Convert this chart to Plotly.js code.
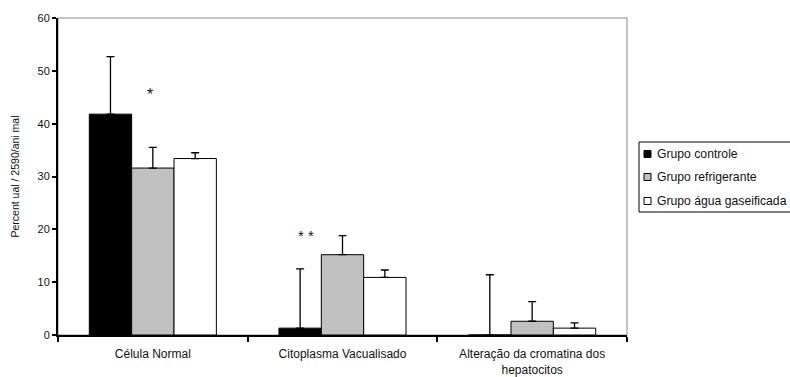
<!DOCTYPE html>
<html>
<head>
<meta charset="utf-8">
<script src="https://cdn.plot.ly/plotly-3.0.1.min.js"></script>
<style>html,body{margin:0;padding:0;background:#fff;overflow:hidden}#chart{width:790px;height:377px}</style>
</head>
<body>
<div id="chart"></div>
<script>
const categories = ["Célula Normal", "Citoplasma Vacualisado", "Alteração da cromatina dos<br>hepatocitos"];
const seriesNames = ["Grupo controle", "Grupo refrigerante", "Grupo água gaseificada"];
const controle = [41.8, 1.3, 0];
const controleErr = [10.9, 11.2, 11.4];
const refrigerante = [31.6, 15.2, 2.6];
const refrigeranteErr = [3.9, 3.6, 3.7];
const agua = [33.4, 10.9, 1.3];
const aguaErr = [1.1, 1.4, 1.0];
const yTicks = [0, 10, 20, 30, 40, 50, 60];

const colors = ["#000000", "#c0c0c0", "#ffffff"];
const values = [controle, refrigerante, agua];
const errs = [controleErr, refrigeranteErr, aguaErr];

const traces = values.map((v, i) => ({
  type: "bar",
  name: seriesNames[i],
  x: categories,
  y: v,
  marker: {color: colors[i], line: {color: "#000", width: 1}},
  error_y: {type: "data", symmetric: false, array: errs[i], arrayminus: v.map(() => 0),
            color: "#000", thickness: 1.3, width: 4}
}));

// plot area geometry (pixels) used to place the hand-built legend
const W = 790, H = 377, L = 58, R = 163, T = 18, B = 42;
const pw = W - L - R, ph = H - T - B;
const px = p => (p - L) / pw;
const py = p => (H - B - p) / ph;

const legendRows = [154, 177, 201];
const shapes = [
  {type: "rect", xref: "paper", yref: "paper", x0: 0, x1: 1, y0: 0, y1: 1,
   line: {color: "#888", width: 1}, layer: "below"},
  {type: "rect", xref: "paper", yref: "paper", x0: px(639), x1: px(820), y0: py(212), y1: py(142),
   line: {color: "#000", width: 1}, fillcolor: "#fff", layer: "above"}
];
const annotations = [
  {x: 0, y: 45.6, xref: "x", yref: "y", text: "*", showarrow: false, xshift: -3,
   font: {size: 16, color: "#111"}},
  {x: 1, y: 18.8, xref: "x", yref: "y", text: "* *", showarrow: false, xshift: -37,
   font: {size: 15, color: "#111"}}
];
seriesNames.forEach((n, i) => {
  const r = legendRows[i];
  shapes.push({type: "rect", xref: "paper", yref: "paper", x0: px(644), x1: px(651),
               y0: py(r + 3.5), y1: py(r - 3.5), fillcolor: colors[i],
               line: {color: "#000", width: 1}, layer: "above"});
  annotations.push({x: px(655), y: py(r), xref: "paper", yref: "paper", text: n,
                    xanchor: "left", yanchor: "middle", showarrow: false,
                    font: {size: 12.2, color: "#111"}});
});

const layout = {
  width: W, height: H,
  margin: {l: L, r: R, t: T, b: B, autoexpand: false},
  paper_bgcolor: "#fff", plot_bgcolor: "#fff",
  barmode: "group", bargap: 0.33, bargroupgap: 0,
  font: {family: "Liberation Sans, Arial, sans-serif", size: 10, color: "#111"},
  showlegend: false,
  xaxis: {type: "category", showline: true, linecolor: "#000", linewidth: 2,
          ticks: "outside", tickson: "boundaries", ticklen: 5, tickwidth: 2, tickcolor: "#000",
          ticklabelstandoff: 7,
          tickfont: {size: 12}, showgrid: false, zeroline: false, fixedrange: true},
  yaxis: {range: [0, 60], tickvals: yTicks, ticktext: yTicks.map(String),
          showline: true, linecolor: "#000", linewidth: 2,
          ticks: "outside", ticklen: 4, tickwidth: 2, tickcolor: "#000",
          tickfont: {size: 11}, showgrid: false, zeroline: false,
          title: {text: "Percent ual / 2590/ani mal", font: {size: 10.5}, standoff: 16}},
  shapes: shapes,
  annotations: annotations
};

Plotly.newPlot("chart", traces, layout, {displayModeBar: false, staticPlot: true});
</script>
</body>
</html>
